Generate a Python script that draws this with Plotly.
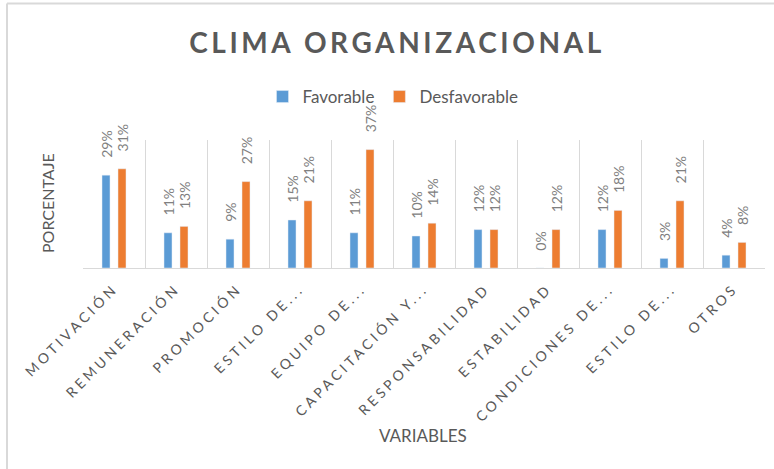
import plotly.graph_objects as go

categorias = ["MOTIVACIÓN", "REMUNERACIÓN", "PROMOCIÓN", "ESTILO DE...", "EQUIPO DE...",
              "CAPACITACIÓN Y...", "RESPONSABILIDAD", "ESTABILIDAD", "CONDICIONES DE...",
              "ESTILO DE...", "OTROS"]
favorable = [0.29, 0.11, 0.09, 0.15, 0.11, 0.10, 0.12, 0.00, 0.12, 0.03, 0.04]
desfavorable = [0.31, 0.13, 0.27, 0.21, 0.37, 0.14, 0.12, 0.12, 0.18, 0.21, 0.08]

AZUL = "#5B9BD5"
NARANJA = "#ED7D31"
GRIS = "#595959"
LINEA = "#D9D9D9"
FUENTE = "Lato"

# plot area in pixels: x 83-765, y 140-268
W, H = 774, 469
L, R, T, B = 83, 9, 140, 201
pw, ph = W - L - R, H - T - B


def px_x(p):
    return (p - L) / pw


def px_y(q):
    return (H - B - q) / ph


x = list(range(len(categorias)))
pad = "\u00a0" * 4

fig = go.Figure()
for nombre, valores, color in [("Favorable", favorable, AZUL), ("Desfavorable", desfavorable, NARANJA)]:
    fig.add_trace(go.Bar(
        x=x, y=valores, name=nombre, marker_color=color,
        texttemplate=pad + "%{y:.0%}", textposition="outside", textangle=-90,
        textfont=dict(family=FUENTE, size=14, color="#808080"),
        constraintext="none", cliponaxis=False,
    ))

fig.update_layout(
    width=W, height=H,
    margin=dict(l=L, r=R, t=T, b=B),
    paper_bgcolor="white", plot_bgcolor="white",
    barmode="group", bargap=0.484, bargroupgap=0.5,
    font=dict(family=FUENTE, color=GRIS),
    title=dict(text="<b>CLIMA ORGANIZACIONAL</b>", x=px_x(397), xref="paper", xanchor="center",
               y=1 - 43 / H, yref="container", yanchor="middle",
               font=dict(family=FUENTE, size=28, color=GRIS)),
    legend=dict(orientation="h", x=px_x(393), xanchor="center", y=px_y(97), yanchor="middle",
                font=dict(family=FUENTE, size=17, color=GRIS), bgcolor="rgba(0,0,0,0)"),
    showlegend=True,
)

fig.update_xaxes(
    range=[-0.5, len(categorias) - 0.5],
    tickmode="array", tickvals=x, ticktext=categorias, tickangle=-45,
    tickfont=dict(family=FUENTE, size=14, color=GRIS),
    showgrid=False, zeroline=False, showline=True, linecolor=LINEA, linewidth=1,
    ticks="", ticklabelstandoff=6,
    minor=dict(tickvals=[i - 0.5 for i in range(len(categorias) + 1)], showgrid=True,
               gridcolor=LINEA, gridwidth=1, ticks=""),
)
fig.update_yaxes(range=[0, 0.40], showticklabels=False, showgrid=False, zeroline=False, showline=False)

fig.add_annotation(text="PORCENTAJE", textangle=-90, x=px_x(47), y=px_y(203), xref="paper", yref="paper",
                   xanchor="center", yanchor="middle",
                   showarrow=False, font=dict(family=FUENTE, size=16, color=GRIS))
fig.add_annotation(text="VARIABLES", x=px_x(423), y=px_y(435), xref="paper", yref="paper",
                   xanchor="center", yanchor="middle",
                   showarrow=False, font=dict(family=FUENTE, size=17, color=GRIS))

# chart frame (top and left edges visible)
fig.add_shape(type="line", xref="paper", yref="paper", x0=px_x(7), x1=px_x(W), y0=px_y(3.5), y1=px_y(3.5),
              line=dict(color=LINEA, width=2))
fig.add_shape(type="line", xref="paper", yref="paper", x0=px_x(7), x1=px_x(7), y0=px_y(3.5), y1=px_y(H),
              line=dict(color=LINEA, width=2))

# page margin off, Excel-like letter spacing on title and category labels
extra_js = """
document.body.style.margin = '0';
document.querySelectorAll('.xtick text').forEach(function (t) { t.style.letterSpacing = '3.5px'; });
document.querySelectorAll('.gtitle').forEach(function (t) { t.style.letterSpacing = '3.6px'; });
"""

fig.write_html("out.html", post_script=extra_js, config={"displayModeBar": False})
